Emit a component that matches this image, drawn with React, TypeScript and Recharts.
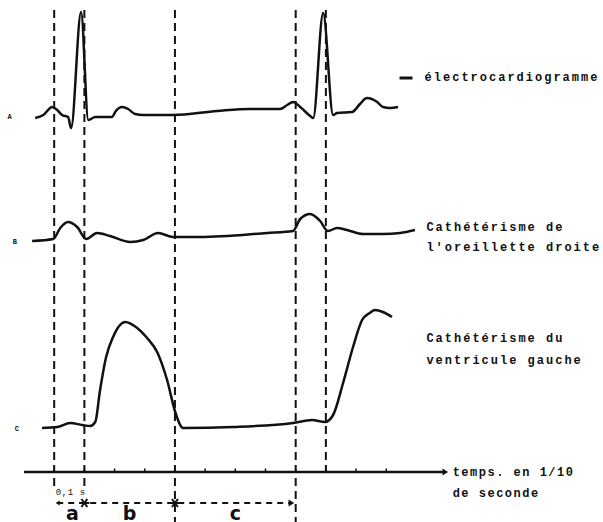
import React from "react";
import { ComposedChart, Line, XAxis, YAxis, ReferenceLine, ReferenceDot } from "recharts";

// time is in tenths of a second (one axis tick = 0,1 s); amplitudes are relative to each trace's own baseline
const ecgTime = [-0.63, -0.36, -0.07, 0.1, 0.26, 0.46, 0.56, 0.89, 1.13, 1.36, 1.92, 2.02, 2.25, 2.45, 2.68, 2.95, 3.94, 5.4, 6.49, 7.48, 7.72, 7.91, 8.15, 8.48, 8.58, 8.91, 9.24, 9.37, 9.87, 10.13, 10.36, 10.7, 10.89, 11.13, 11.39];
const ecgAmp = [-0.2, 0.4, 2.0, 1.4, 0.4, 0, -2.2, 21, -0.6, 0, 0, 1.0, 2.0, 1.6, 0.6, 0.4, 0.4, 1.2, 1.6, 1.6, 2.4, 3.0, 2.0, 0.2, -0.2, 20.8, 0.4, 0.8, 1.0, 2.6, 3.8, 3.0, 2.0, 1.8, 2.0];

const oreilletteTime = [-0.73, -0.03, 0.2, 0.46, 0.76, 1.06, 1.42, 1.85, 2.52, 2.95, 3.44, 3.94, 4.83, 7.05, 7.91, 8.15, 8.48, 8.81, 9.07, 9.37, 9.7, 10.23, 10.89, 11.46, 11.95];
const oreilletteAmp = [-0.8, -0.4, 1.8, 3.0, 2.0, -0.4, 0.8, 0.2, -1.0, -0.6, 0.8, 0, 0, 0.8, 1.2, 3.6, 4.6, 3.2, 1.2, 1.8, 1.4, 0.6, 0.6, 0.8, 1.4];

const ventriculeTime = [-0.4, 0.1, 0.53, 0.93, 1.19, 1.36, 1.52, 1.72, 1.95, 2.35, 2.75, 3.08, 3.41, 3.74, 4.01, 4.27, 5.93, 7.91, 8.54, 8.97, 9.24, 9.57, 9.9, 10.2, 10.45, 10.63, 10.89, 11.19];
const ventriculeAmp = [0, 0.2, 1.0, 0.6, 0.4, 1.2, 7.6, 14.2, 18.2, 21.2, 20.0, 18.0, 15.2, 9.6, 3.2, 0, 0.2, 1.0, 1.6, 1.2, 2.6, 9.0, 16.2, 21.6, 23.0, 23.6, 23.2, 22.2];

const markerTimes = [0, 1, 4, 8, 9];
const axisTicks = [0, 1, 2, 3, 4, 5, 6, 7, 8, 9, 10, 11];
const phaseNames = ["a", "b", "c"];

const BASE_ECG = 71;
const BASE_OREILLETTE = 47;
const BASE_VENTRICULE = 8.8;

const toRows = (time: number[], amp: number[], base: number) => time.map((t, i) => ({ t, v: base + amp[i] }));
const ecgRows = toRows(ecgTime, ecgAmp, BASE_ECG);
const oreilletteRows = toRows(oreilletteTime, oreilletteAmp, BASE_OREILLETTE);
const ventriculeRows = toRows(ventriculeTime, ventriculeAmp, BASE_VENTRICULE);

const INK = "#111";
const mono = "'Liberation Mono', 'DejaVu Sans Mono', monospace";

function note(key: string, t: number, v: number, text: string, style: React.SVGProps<SVGTextElement> = {}) {
  return (
    <ReferenceDot
      key={key}
      x={t}
      y={v}
      r={0}
      ifOverflow="visible"
      shape={(p: any) => (
        <text x={p.cx} y={p.cy} fill={INK} fontFamily={mono} fontWeight={700} fontSize={12} letterSpacing={2} {...style}>
          {text}
        </text>
      )}
    />
  );
}

function arrowHead(key: string, t: number, v: number, dir: 1 | -1, size = 5) {
  return (
    <ReferenceDot
      key={key}
      x={t}
      y={v}
      r={0}
      ifOverflow="visible"
      shape={(p: any) => (
        <polygon
          points={`${p.cx},${p.cy} ${p.cx - dir * size * 1.6},${p.cy - size} ${p.cx - dir * size * 1.6},${p.cy + size}`}
          fill={INK}
        />
      )}
    />
  );
}

function star(key: string, t: number, v: number) {
  return (
    <ReferenceDot
      key={key}
      x={t}
      y={v}
      r={0}
      ifOverflow="visible"
      shape={(p: any) => (
        <g stroke={INK} strokeWidth={2}>
          <line x1={p.cx - 5} y1={p.cy} x2={p.cx + 5} y2={p.cy} />
          <line x1={p.cx - 3} y1={p.cy - 4} x2={p.cx + 3} y2={p.cy + 4} />
          <line x1={p.cx - 3} y1={p.cy + 4} x2={p.cx + 3} y2={p.cy - 4} />
        </g>
      )}
    />
  );
}

export default function App() {
  const markerBottom = [-3, -3, -10, -10, 0];
  const phaseStart = markerTimes.slice(0, 3);
  const phaseEnd = markerTimes.slice(1, 4);
  return (
    <div style={{ position: "absolute", left: 0, top: 0, background: "#fff" }}>
      <ComposedChart width={603} height={522} margin={{ top: 2, right: 96, bottom: 0, left: 24 }}>
        <XAxis type="number" dataKey="t" domain={[-1, 15]} allowDataOverflow hide />
        <YAxis type="number" domain={[-10, 94]} allowDataOverflow hide />

        {markerTimes.map((t, i) => (
          <ReferenceLine
            key={`m${i}`}
            segment={[{ x: t, y: 92.4 }, { x: t, y: markerBottom[i] }]}
            stroke={INK}
            strokeWidth={2}
            strokeDasharray="8 5"
            ifOverflow="visible"
          />
        ))}

        {/* time axis */}
        <ReferenceLine segment={[{ x: -1, y: 0 }, { x: 12.9, y: 0 }]} stroke={INK} strokeWidth={2.5} ifOverflow="visible" />
        {arrowHead("axisArrow", 13.05, 0, 1, 3.5)}
        {axisTicks.map((t) => (
          <ReferenceLine key={`tk${t}`} segment={[{ x: t, y: 0 }, { x: t, y: 0.7 }]} stroke={INK} strokeWidth={1.5} ifOverflow="visible" />
        ))}

        {/* phase arrows a / b / c */}
        <ReferenceLine segment={[{ x: 0.1, y: -6.2 }, { x: 7.85, y: -6.2 }]} stroke={INK} strokeWidth={2} strokeDasharray="6 5" ifOverflow="visible" />
        {arrowHead("phaseL", 0.05, -6.2, -1, 2.5)}
        {star("s1", markerTimes[1], -6.2)}
        {star("s2", markerTimes[2], -6.2)}
        {arrowHead("phaseR", markerTimes[3] - 0.05, -6.2, 1, 3.5)}
        {phaseNames.map((n, i) =>
          note(`ph${n}`, (phaseStart[i] + phaseEnd[i]) / 2 + (i === 0 ? 0.1 : 0), -9.5, n, {
            fontFamily: "'DejaVu Sans', sans-serif",
            fontSize: 19,
            letterSpacing: 0,
            textAnchor: "middle",
          })
        )}
        {note("dt", 0.05, -4.6, "0,1 s", { fontSize: 9, letterSpacing: 0.6, fontWeight: 400 })}
        {note("ax1", 13.2, -0.8, "temps. en 1/10", { letterSpacing: 1.5 })}
        {note("ax2", 13.2, -5, "de seconde", { letterSpacing: 1.5 })}

        {/* curve labels */}
        {note("lA", -1.55, 70.6, "A", { fontSize: 7 })}
        {note("lB", -1.37, 45.6, "B", { fontSize: 7 })}
        {note("lC", -1.31, 8.2, "C", { fontSize: 7 })}
        <ReferenceLine segment={[{ x: 11.44, y: 78.8 }, { x: 11.87, y: 78.8 }]} stroke={INK} strokeWidth={3} ifOverflow="visible" />
        {note("n1", 12.27, 78.2, "électrocardiogramme")}
        {note("n2", 12.33, 48.2, "Cathétérisme de")}
        {note("n3", 12.33, 44.2, "l'oreillette droite")}
        {note("n4", 12.33, 26, "Cathétérisme du")}
        {note("n5", 12.33, 21.6, "ventricule gauche")}

        <Line data={ecgRows} dataKey="v" type="monotone" stroke={INK} strokeWidth={2.5} dot={false} isAnimationActive={false} />
        <Line data={oreilletteRows} dataKey="v" type="monotone" stroke={INK} strokeWidth={2.5} dot={false} isAnimationActive={false} />
        <Line data={ventriculeRows} dataKey="v" type="monotone" stroke={INK} strokeWidth={2.5} dot={false} isAnimationActive={false} />
      </ComposedChart>
    </div>
  );
}
